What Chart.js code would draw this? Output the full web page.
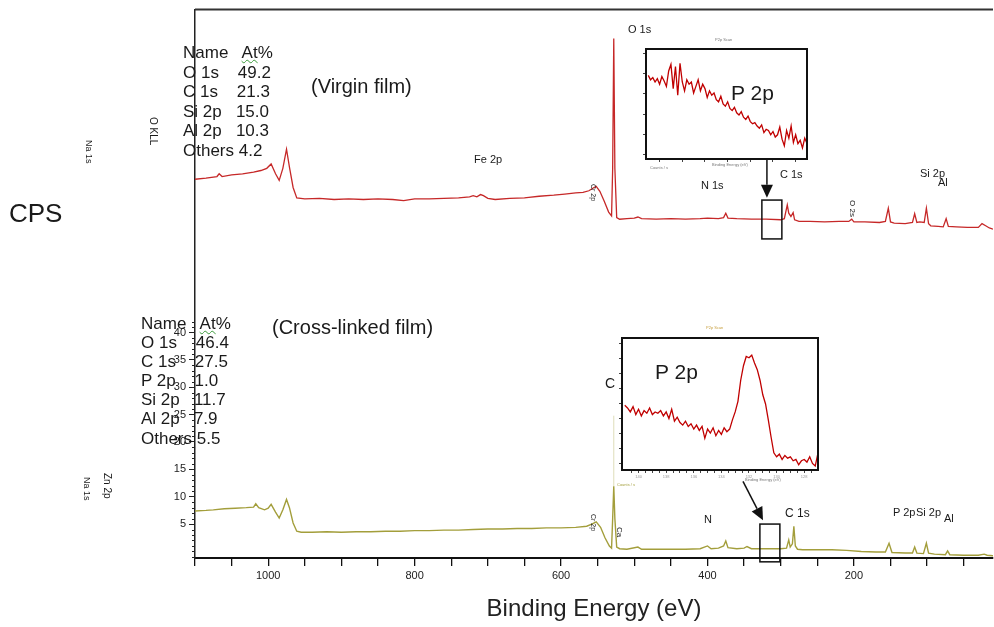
<!DOCTYPE html>
<html>
<head>
<meta charset="utf-8">
<title>XPS survey spectra</title>
<script src="https://cdn.jsdelivr.net/npm/chart.js@4.4.0/dist/chart.umd.min.js"></script>
<style>
  body { margin: 0; background: #fff; }
  #wrap { position: relative; width: 994px; height: 627px; overflow: hidden;
          font-family: 'Liberation Sans', Arial, sans-serif; color: #1a1a1a; }
  canvas { position: absolute; }
  .t { position: absolute; white-space: pre; line-height: 1; }
  .v { writing-mode: vertical-rl; }
  .sq { text-decoration: underline wavy #3a9a3a; text-decoration-thickness: 1px; }
  .tiny { font-size: 4px; color: #777; }
</style>
</head>
<body>
<div id="wrap">
  <canvas id="main" width="994" height="627" style="left:0;top:0"></canvas>
  <canvas id="inset1" width="188" height="140" style="left:628px;top:38px"></canvas>
  <canvas id="inset2" width="232" height="170" style="left:598px;top:322px"></canvas>

  <div class="t" style="left:9px;top:200px;font-size:26px">CPS</div>

  <!-- virgin film -->
  <div class="t" style="left:183px;top:43px;font-size:17px;line-height:19.6px">Name   <span class="sq">At</span>%
O 1s    49.2
C 1s    21.3
Si 2p   15.0
Al 2p   10.3
Others 4.2</div>
  <div class="t" style="left:311px;top:76px;font-size:20px">(Virgin film)</div>
  <div class="t" style="left:474px;top:154px;font-size:11px">Fe 2p</div>
  <div class="t" style="left:628px;top:24px;font-size:11px">O 1s</div>
  <div class="t" style="left:701px;top:180px;font-size:11px">N 1s</div>
  <div class="t" style="left:780px;top:169px;font-size:11px">C 1s</div>
  <div class="t" style="left:920px;top:168px;font-size:11px">Si 2p</div>
  <div class="t" style="left:938px;top:177px;font-size:11px">Al</div>
  <div class="t v" style="left:848px;top:200px;font-size:8px">O 2s</div>
  <div class="t v" style="left:148px;top:117px;font-size:10px">O KLL</div>
  <div class="t v" style="left:84px;top:140px;font-size:9px">Na 1s</div>
  <div class="t v" style="left:590px;top:184px;font-size:7px">Cr 2p</div>

  <!-- cross-linked film -->
  <div class="t" style="left:141px;top:314px;font-size:17px;line-height:19.1px">Name   <span class="sq">At</span>%
O 1s    46.4
C 1s    27.5
P 2p    1.0
Si 2p   11.7
Al 2p   7.9
Others 5.5</div>
  <div class="t" style="left:272px;top:317px;font-size:20px">(Cross-linked film)</div>
  <div class="t v" style="left:82px;top:477px;font-size:9px">Na 1s</div>
  <div class="t v" style="left:102px;top:473px;font-size:10px">Zn 2p</div>
  <div class="t v" style="left:590px;top:514px;font-size:7px">Cr 2p</div>
  <div class="t v" style="left:615px;top:527px;font-size:8px">Ca</div>
  <div class="t" style="left:605px;top:376px;font-size:14px">C</div>
  <div class="t" style="left:704px;top:514px;font-size:11px">N</div>
  <div class="t" style="left:785px;top:507px;font-size:12px">C 1s</div>
  <div class="t" style="left:893px;top:507px;font-size:11px">P 2p</div>
  <div class="t" style="left:916px;top:507px;font-size:11px">Si 2p</div>
  <div class="t" style="left:944px;top:513px;font-size:11px">Al</div>

  <!-- insets -->
  <div class="t" style="left:731px;top:82px;font-size:21px">P 2p</div>
  <div class="t" style="left:655px;top:361px;font-size:21px">P 2p</div>
  <div class="t tiny" style="left:715px;top:38px">P2p Scan</div>
  <div class="t tiny" style="left:712px;top:163px">Binding Energy (eV)</div>
  <div class="t tiny" style="left:650px;top:166px">Counts / s</div>
  <div class="t tiny" style="left:706px;top:326px;color:#c8a040">P2p Scan</div>
  <div class="t tiny" style="left:745px;top:478px">Binding Energy (eV)</div>
  <div class="t tiny" style="left:617px;top:483px;color:#a39e3b">Counts / s</div>
</div>

<script>
// ---- survey spectra (binding energy in eV, intensity in axis units) ----
const virginEnergy = [
  1100, 1085, 1070, 1067, 1063, 1050, 1035, 1020, 1010, 1002,
  996, 990, 985, 980, 975, 971, 966, 961, 950, 930,
  910, 890, 870, 850, 830, 815, 800, 780, 760, 740,
  725, 720, 715, 710, 706, 700, 690, 670, 650, 644,
  630, 610, 595, 580, 570, 562, 556, 552, 547, 541,
  535, 531, 529.5, 528, 526.5, 524, 520, 510, 500, 495,
  490, 470, 450, 430, 410, 400, 385, 378, 375, 372,
  360, 340, 320, 300, 295, 291, 289, 286, 283, 281,
  275, 260, 240, 220, 207, 203, 200, 185, 165, 157,
  153, 150, 145, 130, 120, 117, 114, 110, 104, 101,
  98, 95, 85, 78, 74, 71, 60, 45, 30, 25,
  20, 15, 10
];
const virginCps = [
  68.0, 68.2, 68.5, 69.0, 68.5, 68.8, 69.0, 69.3, 69.6, 70.0,
  70.8, 69.0, 67.8, 70.0, 73.5, 70.2, 66.5, 64.6, 64.4, 64.5,
  64.3, 64.4, 64.3, 64.4, 64.3, 64.1, 64.4, 64.4, 64.5, 64.6,
  64.8, 65.0, 64.8, 65.2, 65.0, 64.5, 64.3, 64.5, 64.6, 64.7,
  64.9, 65.1, 65.3, 65.5, 65.6, 65.9, 66.4, 66.7, 65.8, 64.0,
  62.0, 61.3, 70.0, 93.7, 70.0, 61.0, 60.7, 60.8, 60.9, 61.1,
  60.8, 60.7, 60.8, 60.7, 60.8, 60.9, 60.8, 61.0, 61.8, 60.9,
  60.8, 60.7, 60.7, 60.6, 60.8, 63.3, 61.8, 61.2, 61.9, 60.6,
  60.3, 60.3, 60.2, 60.3, 60.3, 60.7, 60.2, 60.2, 60.1, 60.3,
  62.7, 60.2, 60.0, 59.9, 60.1, 61.7, 60.1, 60.2, 60.1, 62.7,
  59.9, 59.5, 59.4, 59.3, 60.8, 59.4, 59.3, 59.2, 59.2, 59.9,
  59.5, 59.1, 58.9
];

const crosslinkedEnergy = [
  1100, 1085, 1075, 1060, 1045, 1030, 1020, 1017, 1013, 1005,
  1000, 996, 990, 985, 980, 975, 971, 966, 961, 955,
  940, 920, 900, 880, 860, 840, 820, 800, 780, 760,
  740, 720, 700, 680, 660, 640, 620, 600, 580, 565,
  558, 552, 546, 540, 534, 531, 529.5, 528, 526.5, 524,
  520, 510, 495, 490, 460, 430, 410, 400, 395, 385,
  378, 375, 372, 360, 350, 346, 340, 320, 300, 292,
  289, 287, 284, 282, 280, 277, 270, 250, 230, 210,
  190, 170, 157, 152, 148, 130, 120, 117, 114, 105,
  101, 98, 90, 75, 72, 69, 50, 30, 22, 18,
  10
];
const crosslinkedCps = [
  7.4, 7.5, 7.6, 7.8, 7.9, 8.0, 8.1, 8.7, 8.0, 7.6,
  7.9, 8.6, 7.2, 6.1, 7.6, 9.5, 8.0, 5.2, 3.7, 3.5,
  3.5, 3.6, 3.5, 3.6, 3.6, 3.7, 3.7, 3.8, 3.8, 3.9,
  3.9, 4.0, 4.1, 4.1, 4.2, 4.2, 4.3, 4.3, 4.4, 4.6,
  5.0, 5.4, 4.4, 2.5, 1.0, 0.6, 6.0, 11.9, 6.0, 0.8,
  0.5, 0.4, 0.8, 0.4, 0.4, 0.4, 0.5, 1.0, 0.5, 0.6,
  1.0, 1.9, 0.7, 0.5, 0.6, 0.9, 0.5, 0.5, 0.5, 0.6,
  2.1, 0.8, 1.4, 4.6, 1.0, 0.4, 0.3, 0.3, 0.3, 0.2,
  0.0, -0.1, -0.1, 1.5, -0.2, -0.3, -0.3, 0.8, -0.3, -0.4,
  1.5, -0.3, -0.5, -0.6, 0.1, -0.6, -0.7, -0.7, -0.5, -0.7,
  -0.8
];
// faint top of the cross-linked O 1s line
const crosslinkedO1sEnergy = [528, 528];
const crosslinkedO1sCps = [11.9, 24.8];

// axis ticks
const xTickValues = [1100, 1050, 1000, 950, 900, 850, 800, 750, 700, 650, 600,
                     550, 500, 450, 400, 350, 300, 250, 200, 150, 100, 50];
const xTickLabels = [1000, 800, 600, 400, 200];
const yTickValues = [5, 10, 15, 20, 25, 30, 35, 40];

// ---- P 2p high resolution insets (relative counts, 0-100 of the frame) ----
const insetEnergy = [
  141.0, 140.8, 140.6, 140.4, 140.2, 140.0, 139.8, 139.6, 139.4, 139.2,
  139.0, 138.8, 138.6, 138.4, 138.2, 138.0, 137.8, 137.6, 137.4, 137.2,
  137.0, 136.8, 136.6, 136.4, 136.2, 136.0, 135.8, 135.6, 135.4, 135.2,
  135.0, 134.8, 134.6, 134.4, 134.2, 134.0, 133.8, 133.6, 133.4, 133.2,
  133.0, 132.8, 132.6, 132.4, 132.2, 132.0, 131.8, 131.6, 131.4, 131.2,
  131.0, 130.8, 130.6, 130.4, 130.2, 130.0, 129.8, 129.6, 129.4, 129.2,
  129.0, 128.8, 128.6, 128.4, 128.2, 128.0, 127.8, 127.6, 127.4, 127.2,
  127.0
];
const virginP2p = [
  76, 72, 74, 70, 73, 68, 75, 71, 66, 80,
  86, 64, 84, 58, 87, 70, 62, 72, 68, 70,
  60, 66, 72, 62, 68, 64, 56, 62, 58, 60,
  54, 52, 57, 50, 48, 52, 46, 44, 47, 42,
  40, 43, 38, 36, 39, 34, 32, 33, 30, 28,
  31, 24, 27, 26, 22, 25, 20, 22, 29, 18,
  12, 26, 19, 30, 15, 22, 14, 17, 10, 19,
  14
];
const crosslinkedP2p = [
  49, 47, 44, 48, 42, 46, 41, 45, 43, 47,
  42, 44, 43, 45, 41, 44, 39, 46, 37, 40,
  36, 34, 37, 33, 35, 31, 34, 30, 33, 24,
  31, 28, 32, 26, 30, 27, 32, 29, 31, 38,
  44, 52, 68, 79, 86, 85, 87, 81, 76, 68,
  57, 50, 38, 25, 13, 10, 12, 8, 11, 9,
  10, 7, 8, 4, 7, 8, 6, 10, 5, 3,
  13
];
const inset1YTicks = [4.5, 22.7, 40.9, 59.1, 77.3, 95.5];
const inset2YTicks = [5.3, 16.6, 27.8, 39.1, 50.4, 61.7, 72.9, 84.2, 95.5];
const inset1XTicks = [140, 138, 136, 134, 132, 130, 128];
const inset2XTicks = [140.5, 140, 139.5, 139, 138.5, 138, 137.5, 137, 136.5, 136, 135.5, 135,
                      134.5, 134, 133.5, 133, 132.5, 132, 131.5, 131, 130.5, 130, 129.5, 129,
                      128.5, 128, 127.5];

// zoom boxes + arrows (energy, intensity)
const zoomMarks = [
  { box: [325.7, 298.4, 64.2, 57.1], from: [318.8, 71.5], to: [318.8, 64.6] },
  { box: [328.4, 301.1, 5.0, -1.9], from: [351.5, 12.8], to: [324.2, 5.7] }
];

const RED = '#c62828';
const OLIVE = '#a39e3b';
const FONT = "'Liberation Sans', Arial, sans-serif";

const toPoints = (xs, ys) => xs.map((x, i) => ({ x: x, y: ys[i] }));

const decorPlugin = {
  id: 'decor',
  afterDraw(chart) {
    const { ctx, chartArea: a, scales: { x, y } } = chart;
    ctx.save();
    // top frame line
    ctx.strokeStyle = '#333';
    ctx.lineWidth = 2;
    ctx.beginPath();
    ctx.moveTo(a.left, a.top);
    ctx.lineTo(a.right, a.top);
    ctx.stroke();

    // minor ticks on the intensity axis
    ctx.strokeStyle = '#222';
    ctx.lineWidth = 1;
    for (let v = -1; v <= 42; v++) {
      if (yTickValues.includes(v)) continue;
      const py = Math.round(y.getPixelForValue(v)) + 0.5;
      ctx.beginPath();
      ctx.moveTo(a.left - 3, py);
      ctx.lineTo(a.left, py);
      ctx.stroke();
    }

    // zoom boxes with arrows
    zoomMarks.forEach(m => {
      const x1 = x.getPixelForValue(m.box[0]), x2 = x.getPixelForValue(m.box[1]);
      const y1 = y.getPixelForValue(m.box[2]), y2 = y.getPixelForValue(m.box[3]);
      ctx.strokeStyle = '#111';
      ctx.lineWidth = 1.5;
      ctx.strokeRect(x1, y1, x2 - x1, y2 - y1);

      const fx = x.getPixelForValue(m.from[0]), fy = y.getPixelForValue(m.from[1]);
      const tx = x.getPixelForValue(m.to[0]), ty = y.getPixelForValue(m.to[1]);
      const ang = Math.atan2(ty - fy, tx - fx);
      const hl = 13, hw = 6;
      const bx = tx - hl * Math.cos(ang), by = ty - hl * Math.sin(ang);
      ctx.beginPath();
      ctx.moveTo(fx, fy);
      ctx.lineTo(bx, by);
      ctx.stroke();
      ctx.fillStyle = '#111';
      ctx.beginPath();
      ctx.moveTo(tx, ty);
      ctx.lineTo(bx + hw * Math.sin(ang), by - hw * Math.cos(ang));
      ctx.lineTo(bx - hw * Math.sin(ang), by + hw * Math.cos(ang));
      ctx.closePath();
      ctx.fill();
    });
    ctx.restore();
  }
};

new Chart(document.getElementById('main'), {
  type: 'line',
  data: {
    datasets: [
      { label: 'Virgin film', data: toPoints(virginEnergy, virginCps),
        borderColor: RED, borderWidth: 1.3, pointRadius: 0, tension: 0 },
      { label: 'Cross-linked film', data: toPoints(crosslinkedEnergy, crosslinkedCps),
        borderColor: OLIVE, borderWidth: 1.4, pointRadius: 0, tension: 0 },
      { label: 'O 1s top', data: toPoints(crosslinkedO1sEnergy, crosslinkedO1sCps),
        borderColor: 'rgba(163,158,59,0.45)', borderWidth: 0.8, pointRadius: 0 }
    ]
  },
  options: {
    responsive: false,
    animation: false,
    layout: { padding: { top: 8, right: 1, left: 0, bottom: 0 } },
    plugins: { legend: { display: false }, tooltip: { enabled: false } },
    scales: {
      x: {
        type: 'linear', reverse: true, min: 10, max: 1100,
        afterBuildTicks: s => { s.ticks = xTickValues.map(v => ({ value: v })); },
        afterFit: s => { s.height = 69; },
        ticks: {
          autoSkip: false, maxRotation: 0, padding: 3, color: '#222',
          font: { family: "'Liberation Sans Narrow', " + FONT, size: 11 },
          callback: v => xTickLabels.includes(v) ? String(v) : ''
        },
        grid: { drawOnChartArea: false, drawTicks: true, tickLength: 8, color: '#111', lineWidth: 1.3 },
        border: { display: true, color: '#111', width: 2 },
        title: { display: true, text: 'Binding Energy (eV)', color: '#222',
                 font: { family: FONT, size: 24 }, padding: { top: 0, bottom: 3 } }
      },
      y: {
        min: -1.2, max: 99,
        afterBuildTicks: s => { s.ticks = yTickValues.map(v => ({ value: v })); },
        afterFit: s => { s.width = 195; },
        ticks: { padding: 3, color: '#222', font: { family: "'Liberation Sans Narrow', " + FONT, size: 11 } },
        grid: { drawOnChartArea: false, drawTicks: true, tickLength: 6, color: '#222', lineWidth: 1 },
        border: { display: true, color: '#222', width: 1.5 }
      }
    }
  },
  plugins: [decorPlugin]
});

// ---- insets ----
const framePlugin = {
  id: 'frame',
  afterDraw(chart) {
    const { ctx, chartArea: a } = chart;
    ctx.save();
    ctx.strokeStyle = '#111';
    ctx.lineWidth = 2;
    ctx.strokeRect(a.left, a.top, a.right - a.left, a.bottom - a.top);
    ctx.restore();
  }
};

function makeInset(id, values, opts) {
  return new Chart(document.getElementById(id), {
    type: 'line',
    data: { datasets: [{ data: toPoints(insetEnergy, values), borderColor: '#c00000',
                         borderWidth: 1.3, pointRadius: 0, tension: 0 }] },
    options: {
      responsive: false,
      animation: false,
      layout: { padding: { top: opts.padTop, right: opts.padRight, left: 0, bottom: 0 } },
      plugins: { legend: { display: false }, tooltip: { enabled: false } },
      scales: {
        x: {
          type: 'linear', reverse: true, min: 127, max: 141.2,
          afterBuildTicks: s => { s.ticks = opts.xTicks.map(v => ({ value: v })); },
          afterFit: s => { s.height = opts.xHeight; },
          ticks: { display: opts.xLabels, autoSkip: false, maxRotation: 0, padding: 1, color: '#999',
                   font: { size: 4 }, callback: v => v % 2 === 0 ? String(v) : '' },
          grid: { drawOnChartArea: false, drawTicks: true, tickLength: 3, color: '#444', lineWidth: 1 },
          border: { display: false }
        },
        y: {
          min: 0, max: 100,
          afterBuildTicks: s => { s.ticks = opts.yTicks.map(v => ({ value: v })); },
          afterFit: s => { s.width = opts.yWidth; },
          ticks: { display: false },
          grid: { drawOnChartArea: false, drawTicks: true, tickLength: 3, color: '#444', lineWidth: 1 },
          border: { display: false }
        }
      }
    },
    plugins: [framePlugin]
  });
}

makeInset('inset1', virginP2p, { padTop: 11, padRight: 9, xHeight: 19, yWidth: 18,
                                 xTicks: inset1XTicks, yTicks: inset1YTicks, xLabels: false });
makeInset('inset2', crosslinkedP2p, { padTop: 16, padRight: 12, xHeight: 22, yWidth: 24,
                                      xTicks: inset2XTicks, yTicks: inset2YTicks, xLabels: true });
</script>
</body>
</html>
